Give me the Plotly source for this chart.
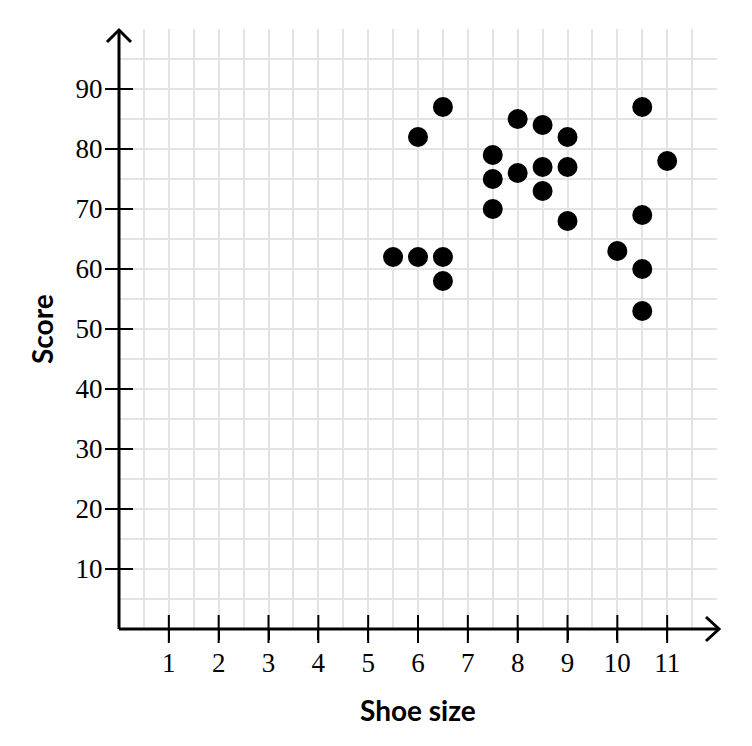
import plotly.graph_objects as go

shoe_size = [6.5, 6, 8, 8.5, 9, 10.5, 7.5, 11, 7.5, 8, 8.5, 9, 8.5, 7.5, 9, 10.5,
             5.5, 6, 6.5, 6.5, 10, 10.5, 10.5]
score = [87, 82, 85, 84, 82, 87, 79, 78, 75, 76, 77, 77, 73, 70, 68, 69,
         62, 62, 62, 58, 63, 60, 53]

x_ticks = [1, 2, 3, 4, 5, 6, 7, 8, 9, 10, 11]
y_ticks = [10, 20, 30, 40, 50, 60, 70, 80, 90]
x_title = "Shoe size"
y_title = "Score"

W, H = 752, 746
OFF = 8  # page body margin
ML, MR, MT, MB = 119 - OFF, 35 + OFF, 29 - OFF, 117 + OFF
PW, PH = W - ML - MR, H - MT - MB

grid_col = "#e3e3e3"
tick_font = dict(family="Liberation Serif", size=27, color="black")

fig = go.Figure()

# inner halves of the tick marks crossing the axes
fig.add_trace(go.Scatter(x=x_ticks, y=[0] * len(x_ticks), mode="markers",
                         marker=dict(symbol="line-ns", size=20, line=dict(width=2, color="black")),
                         cliponaxis=False, hoverinfo="skip", showlegend=False))
fig.add_trace(go.Scatter(x=[0] * len(y_ticks), y=y_ticks, mode="markers",
                         marker=dict(symbol="line-ew", size=20, line=dict(width=2, color="black")),
                         cliponaxis=False, hoverinfo="skip", showlegend=False))

fig.add_trace(go.Scatter(x=shoe_size, y=score, mode="markers",
                         marker=dict(size=20, color="black"),
                         cliponaxis=False, showlegend=False))

common = dict(tickfont=tick_font, ticks="outside", ticklen=10, tickwidth=2,
              tickcolor="black", showline=False, zeroline=False,
              showgrid=True, gridcolor=grid_col, gridwidth=2)
fig.update_xaxes(range=[0, 12], tickmode="array", tickvals=x_ticks,
                 ticktext=[str(v) for v in x_ticks],
                 minor=dict(dtick=0.5, tick0=0, showgrid=True, gridcolor=grid_col, gridwidth=2),
                 **common)
fig.update_yaxes(range=[0, 100], tickmode="array", tickvals=y_ticks,
                 ticktext=[str(v) for v in y_ticks],
                 minor=dict(dtick=5, tick0=0, showgrid=True, gridcolor=grid_col, gridwidth=2),
                 **common)

ax = 12 / PW
ay = 12 / PH
shapes = [
    dict(type="line", xref="paper", yref="paper", x0=0, y0=0, x1=1 + 2 / PW, y1=0,
         line=dict(color="black", width=3), layer="above"),
    dict(type="line", xref="paper", yref="paper", x0=0, y0=0, x1=0, y1=1 - 1 / PH,
         line=dict(color="black", width=3), layer="above"),
    dict(type="path", xref="paper", yref="paper",
         path=f"M {-ax} {1 - ay - 1/PH} L 0 {1 - 1/PH} L {ax} {1 - ay - 1/PH}",
         line=dict(color="black", width=3), layer="above"),
    dict(type="path", xref="paper", yref="paper",
         path=f"M {1 + 2/PW - 13/PW} {ay} L {1 + 2/PW} 0 L {1 + 2/PW - 13/PW} {-ay}",
         line=dict(color="black", width=3), layer="above"),
]

annotations = [
    dict(text=f"<b>{x_title}</b>", xref="paper", yref="paper", x=0.5, y=0,
         xanchor="center", yanchor="middle", yshift=-81, showarrow=False,
         font=dict(family="Lato", size=28, color="black")),
    dict(text=f"<b>{y_title}</b>", xref="paper", yref="paper", x=0, y=0.5,
         xanchor="center", yanchor="middle", xshift=-77, textangle=-90, showarrow=False,
         font=dict(family="Lato", size=28, color="black")),
]

fig.update_layout(width=W, height=H, margin=dict(l=ML, r=MR, t=MT, b=MB),
                  plot_bgcolor="white", paper_bgcolor="white",
                  shapes=shapes, annotations=annotations)

fig.write_html("out.html")
